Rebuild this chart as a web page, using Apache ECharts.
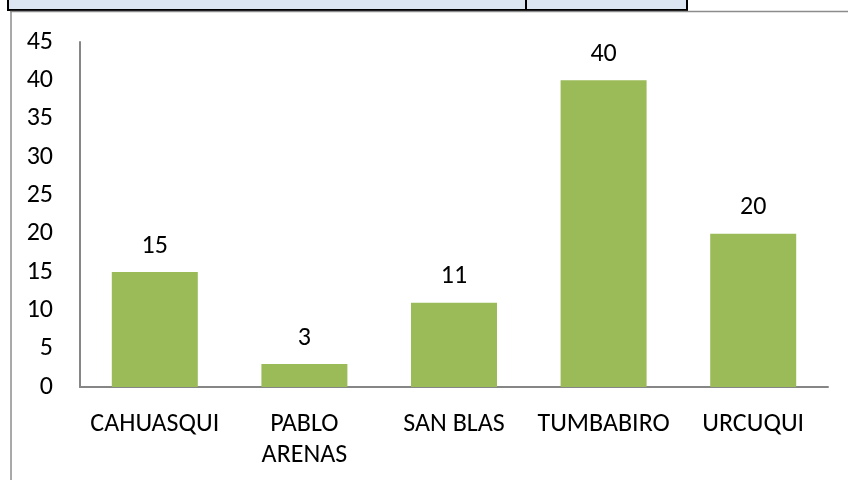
<!DOCTYPE html>
<html>
<head>
<meta charset="utf-8">
<script src="https://cdn.jsdelivr.net/npm/echarts@6/dist/echarts.min.js"></script>
<style>
  html, body { margin: 0; padding: 0; background: #fff; }
  #main { width: 848px; height: 480px; }
</style>
</head>
<body>
<div id="main"></div>
<script>
var categories = ["CAHUASQUI", "PABLO\nARENAS", "SAN BLAS", "TUMBABIRO", "URCUQUI"];
var values = [15, 3, 11, 40, 20];
var yTicks = [0, 5, 10, 15, 20, 25, 30, 35, 40, 45];

var chartDom = document.getElementById("main");
var myChart = echarts.init(chartDom);
var option;
var font = "Carlito, 'Open Sans', sans-serif";

option = {
  animation: false,
  grid: {
    left: 80,
    right: 20,
    top: 42,
    bottom: 93,
  },
  graphic: [
    // table strip at the top
    {
      type: "rect",
      shape: { x: 8, y: -2, width: 679, height: 12 },
      style: { fill: "#dce6f2", stroke: "#000", lineWidth: 2 },
    },
    {
      type: "line",
      shape: { x1: 526, y1: 0, x2: 526, y2: 10 },
      style: { stroke: "#000", lineWidth: 2 },
    },
    // chart frame lines
    {
      type: "line",
      shape: { x1: 10, y1: 11.5, x2: 848, y2: 11.5 },
      style: { stroke: "#8c8c8c", lineWidth: 1.5 },
    },
    {
      type: "line",
      shape: { x1: 11, y1: 11, x2: 11, y2: 480 },
      style: { stroke: "#8c8c8c", lineWidth: 1.5 },
    },
  ],
  xAxis: {
    type: "category",
    data: categories,
    axisLine: { show: true, lineStyle: { color: "#868686", width: 2 } },
    axisTick: { show: false },
    axisLabel: {
      color: "#000",
      fontFamily: font,
      fontSize: 26,
      margin: 22,
      lineHeight: 31,
      interval: 0,
    },
  },
  yAxis: {
    type: "value",
    min: 0,
    max: 45,
    interval: 5,
    splitLine: { show: false },
    axisLine: { show: true, lineStyle: { color: "#868686", width: 2 } },
    axisTick: { show: false },
    axisLabel: {
      color: "#000",
      fontFamily: font,
      fontSize: 26,
      margin: 27,
      formatter: function (v) {
        return yTicks.indexOf(v) >= 0 ? String(v) : "";
      },
    },
  },
  series: [
    {
      type: "bar",
      data: values,
      barWidth: 86,
      itemStyle: { color: "#9bbb59" },
      label: {
        show: true,
        position: "top",
        distance: 13,
        color: "#000",
        fontFamily: font,
        fontSize: 26,
      },
    },
  ],
};

option && myChart.setOption(option);
</script>
</body>
</html>
